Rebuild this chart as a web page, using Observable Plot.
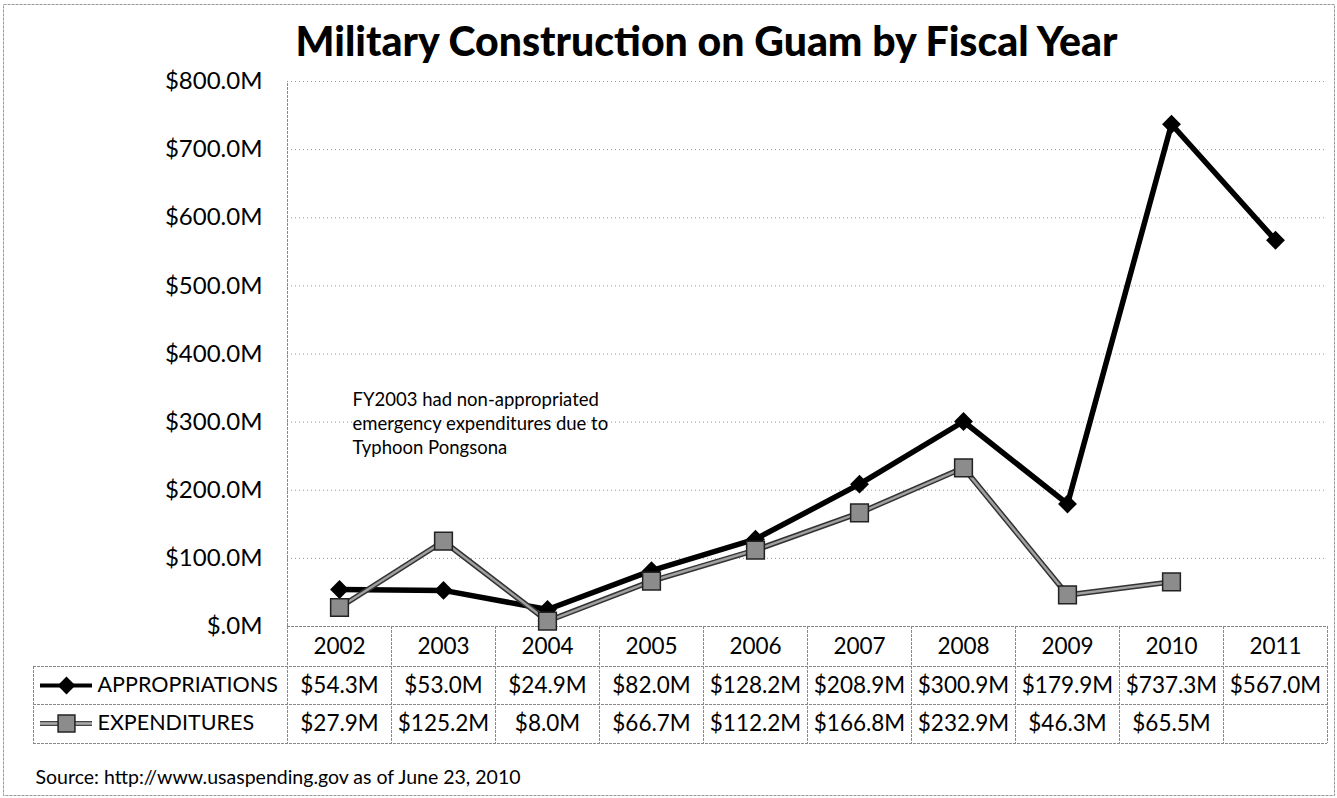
<!DOCTYPE html>
<html>
<head>
<meta charset="utf-8">
<script src="https://cdn.jsdelivr.net/npm/d3@7"></script>
<script src="https://cdn.jsdelivr.net/npm/@observablehq/plot@0.6"></script>
<style>
  html, body { margin: 0; padding: 0; background: #fff; }
  svg { display: block; }
</style>
</head>
<body>
<div id="chart"></div>
<script>
// ---- data ----
const years = [2002, 2003, 2004, 2005, 2006, 2007, 2008, 2009, 2010, 2011];
const appropriations = [54.3, 53.0, 24.9, 82.0, 128.2, 208.9, 300.9, 179.9, 737.3, 567.0];
const expenditures = [27.9, 125.2, 8.0, 66.7, 112.2, 166.8, 232.9, 46.3, 65.5, null];
const seriesNames = ["APPROPRIATIONS", "EXPENDITURES"];
const yTicks = [0, 100, 200, 300, 400, 500, 600, 700, 800];
const titleText = "Military Construction on Guam by Fiscal Year";
const noteText = "FY2003 had non-appropriated\nemergency expenditures due to\nTyphoon Pongsona";
const noteYear = 2002;
const noteValue = 300;
const sourceText = "Source: http://www.usaspending.gov as of June 23, 2010";

// ---- layout ----
const W = 1337, H = 798, ML = 287, MR = 10, MT = 81, MB = 172;
const FONT = "Lato, 'Open Sans', sans-serif";
const colW = (W - ML - MR) / years.length;
const pxPerUnit = (H - MT - MB) / 800;
const xAt = p => years[0] - 0.5 + (p - ML) / colW;        // pixel -> x value
const yAt = p => -(p) / pxPerUnit;                          // px below baseline -> y value
const rowEdges = [0, 40, 78, 117];                          // px below baseline
const rowMid = [20, 59, 97];
const tableLeft = 33;

const fmtMoney = v => `$${v.toFixed(1)}M`;
const fmtTick = v => v === 0 ? "$.0M" : fmtMoney(v);

const appData = years.map((y, i) => ({year: y, value: appropriations[i]}));
const expData = years.map((y, i) => ({year: y, value: expenditures[i]})).filter(d => d.value != null);

const colEdges = d3.range(years.length + 1).map(i => years[0] - 0.5 + i);
const xL = xAt(tableLeft);
const xR = colEdges[colEdges.length - 1];
const gridCol = "#9a9a9a";

const hLines = [
  {x1: colEdges[0], x2: xR, y: yAt(rowEdges[0])},
  {x1: xL, x2: xR, y: yAt(rowEdges[1])},
  {x1: xL, x2: xR, y: yAt(rowEdges[2])},
  {x1: xL, x2: xR, y: yAt(rowEdges[3])}
];
const vLines = colEdges.map(x => ({x, y1: yAt(rowEdges[0]), y2: yAt(rowEdges[3])}))
  .concat([{x: xL, y1: yAt(rowEdges[1]), y2: yAt(rowEdges[3])}]);

const cellText = [];
years.forEach((y, i) => {
  cellText.push({year: y, row: 0, text: String(y)});
  cellText.push({year: y, row: 1, text: fmtMoney(appropriations[i])});
  if (expenditures[i] != null) cellText.push({year: y, row: 2, text: fmtMoney(expenditures[i])});
});

const legendRows = seriesNames.map((name, i) => ({name, row: i + 1}));

const chart = Plot.plot({
  width: W, height: H,
  marginLeft: ML, marginRight: MR, marginTop: MT, marginBottom: MB,
  x: {domain: [years[0] - 0.5, years[years.length - 1] + 0.5], axis: null},
  y: {domain: [0, 800], axis: null},
  style: {fontFamily: FONT, background: "white", color: "#000"},
  marks: [
    // outer border
    Plot.frame({stroke: "#999", strokeDasharray: "3,1", insetLeft: -(ML - 3), insetTop: -(MT - 4), insetRight: -(MR - 3), insetBottom: -(MB - 3)}),
    // title
    Plot.text([titleText], {frameAnchor: "top", dx: 706 - (ML + (W - ML - MR) / 2), dy: 42 - MT, lineAnchor: "middle", fontSize: 41, fontWeight: 900, text: d => d}),
    // grid
    Plot.gridY(yTicks.filter(v => v > 0), {stroke: gridCol, strokeOpacity: 1, strokeDasharray: "1,3"}),
    Plot.ruleX([colEdges[0]], {y1: 0, y2: 800, stroke: "#888", strokeDasharray: "3,1"}),
    Plot.axisY(yTicks, {tickFormat: fmtTick, tickSize: 0, tickPadding: 25, fontSize: 24, label: null}),
    // table grid
    Plot.ruleY(hLines, {x1: "x1", x2: "x2", y: "y", stroke: "#888", strokeDasharray: "3,1"}),
    Plot.ruleX(vLines, {x: "x", y1: "y1", y2: "y2", stroke: "#888", strokeDasharray: "3,1"}),
    Plot.text(cellText, {x: "year", y: d => yAt(rowMid[d.row]), text: "text", fontSize: 22.5}),
    // legend keys in table
    Plot.ruleY(legendRows.filter(d => d.row === 1), {x1: xAt(40), x2: xAt(92), y: d => yAt(rowMid[d.row]), stroke: "#000", strokeWidth: 4}),
    Plot.dot(legendRows.filter(d => d.row === 1), {x: xAt(66), y: d => yAt(rowMid[d.row]), symbol: "diamond2", r: 8, fill: "#000"}),
    Plot.ruleY(legendRows.filter(d => d.row === 2), {x1: xAt(40), x2: xAt(92), y: d => yAt(rowMid[d.row]), stroke: "#444", strokeWidth: 5}),
    Plot.ruleY(legendRows.filter(d => d.row === 2), {x1: xAt(40), x2: xAt(92), y: d => yAt(rowMid[d.row]), stroke: "#aaa", strokeWidth: 2.5}),
    Plot.dot(legendRows.filter(d => d.row === 2), {x: xAt(66), y: d => yAt(rowMid[d.row]), symbol: "square", r: 9.5, fill: "#8c8c8c", stroke: "#222", strokeWidth: 1.5}),
    Plot.text(legendRows, {x: xAt(97), y: d => yAt(rowMid[d.row]), text: "name", textAnchor: "start", fontSize: 21.5}),
    // series
    Plot.line(appData, {x: "year", y: "value", stroke: "#000", strokeWidth: 5.5}),
    Plot.dot(appData, {x: "year", y: "value", symbol: "diamond2", r: 8.5, fill: "#000"}),
    Plot.line(expData, {x: "year", y: "value", stroke: "#333", strokeWidth: 5.5}),
    Plot.line(expData, {x: "year", y: "value", stroke: "#a0a0a0", strokeWidth: 2.5}),
    Plot.dot(expData, {x: "year", y: "value", symbol: "square", r: 10, fill: "#8c8c8c", stroke: "#222", strokeWidth: 1.5}),
    // annotation
    Plot.text([noteText], {x: noteYear, y: noteValue, dx: 352 - ML - colW / 2, dy: 0, text: d => d, textAnchor: "start", lineAnchor: "middle", fontSize: 18.5, lineHeight: 1.3}),
    // source
    Plot.text([sourceText], {frameAnchor: "bottom-left", dx: 35 - ML, dy: 777 - (H - MB), text: d => d, textAnchor: "start", lineAnchor: "middle", fontSize: 19.5})
  ]
});
document.getElementById("chart").appendChild(chart);
</script>
</body>
</html>
